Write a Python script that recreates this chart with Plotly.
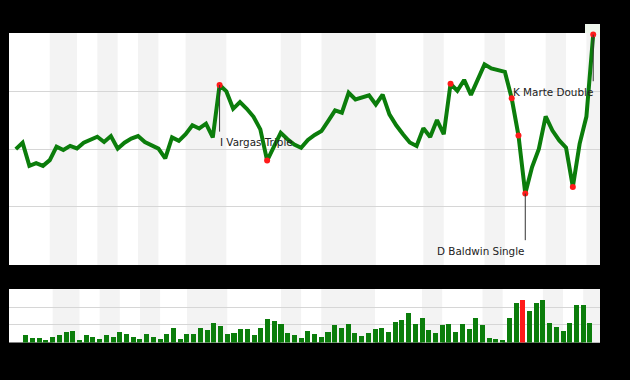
import plotly.graph_objects as go

# ---------------- data ----------------
win_prob = [
    0.500, 0.528, 0.427, 0.439, 0.427, 0.452, 0.511, 0.496, 0.514, 0.503,
    0.528, 0.543, 0.554, 0.531, 0.557, 0.502, 0.528, 0.546, 0.557, 0.531,
    0.514, 0.502, 0.460, 0.551, 0.536, 0.565, 0.604, 0.590, 0.611, 0.551,
    0.780, 0.752, 0.676, 0.705, 0.676, 0.641, 0.586, 0.450, 0.511, 0.571,
    0.543, 0.520, 0.506, 0.540, 0.562, 0.579, 0.623, 0.669, 0.659, 0.746,
    0.717, 0.727, 0.735, 0.695, 0.738, 0.652, 0.604, 0.565, 0.529, 0.514,
    0.591, 0.553, 0.627, 0.565, 0.785, 0.755, 0.802, 0.737, 0.800, 0.870,
    0.852, 0.844, 0.837, 0.722, 0.559, 0.306, 0.422, 0.501, 0.643, 0.581,
    0.538, 0.506, 0.335, 0.523, 0.642, 1.000,
]
plays = list(range(len(win_prob)))

leverage = [
    0.041, 0.024, 0.024, 0.013, 0.030, 0.041, 0.058, 0.064, 0.013, 0.041,
    0.030, 0.019, 0.041, 0.030, 0.058, 0.047, 0.030, 0.019, 0.047, 0.030,
    0.019, 0.047, 0.081, 0.019, 0.047, 0.047, 0.081, 0.070, 0.109, 0.092,
    0.047, 0.053, 0.075, 0.075, 0.041, 0.081, 0.132, 0.120, 0.103, 0.053,
    0.041, 0.024, 0.064, 0.047, 0.030, 0.058, 0.098, 0.081, 0.103, 0.053,
    0.036, 0.053, 0.075, 0.081, 0.058, 0.115, 0.126, 0.166, 0.103, 0.137,
    0.070, 0.053, 0.098, 0.103, 0.058, 0.103, 0.075, 0.137, 0.098, 0.024,
    0.019, 0.013, 0.137, 0.222, 0.239, 0.177, 0.222, 0.239, 0.109, 0.087,
    0.064, 0.109, 0.211, 0.211, 0.109,
]
bar_plays = list(range(1, len(leverage) + 1))

highlight_plays = [30, 37, 64, 73, 74, 75, 82, 85]
label_plays = [30, 75, 85]
label_texts = ["I Vargas Triple", "D Baldwin Single", "K Marte Double"]
label_sides = ["left", "right", "right"]
red_bar_play = 75

half_inning_breaks = [5, 9, 12, 15, 18, 21, 25, 31, 39, 42, 45, 53, 60, 63, 69, 72, 78, 81, 84, 86.5]
inning_centers = [2.5, 10.5, 16.5, 23, 35, 43.5, 56.5, 66, 75, 82.5]
inning_labels = ["1", "2", "3", "4", "5", "6", "7", "8", "9", "10"]

title_text = "8/23/2020 - Diamondbacks @ Padres (Win Probability)"
top_team = "Diamondbacks"
bottom_team = "Padres"
bar_title = "Leverage Index"

# ---------------- styles ----------------
W, H = 630, 380
GREEN = "#0b7d0b"
RED = "#ff1a1a"
BAND = "#f3f3f3"
GRID = "#d6d6d6"
FONT = "DejaVu Sans"


def px_x(p):
    return p / W


def px_y(p):
    return (H - p) / H


fig = go.Figure()

fig.add_trace(go.Scatter(
    x=plays, y=win_prob, mode="lines",
    line=dict(color=GREEN, width=4),
    xaxis="x", yaxis="y", hoverinfo="skip", showlegend=False,
))
fig.add_trace(go.Scatter(
    x=highlight_plays, y=[win_prob[i] for i in highlight_plays], mode="markers",
    marker=dict(color=RED, size=6),
    cliponaxis=False, xaxis="x", yaxis="y", showlegend=False,
))
fig.add_trace(go.Bar(
    x=bar_plays, y=leverage, width=0.75,
    marker=dict(color=[RED if p == red_bar_play else GREEN for p in bar_plays], line=dict(width=0)),
    xaxis="x2", yaxis="y2", showlegend=False,
))

shapes = []
# half-inning bands
for k in range(0, len(half_inning_breaks) - 1, 2):
    for xr, yr in (("x", "y domain"), ("x2", "y2 domain")):
        shapes.append(dict(
            type="rect", xref=xr, yref=yr,
            x0=half_inning_breaks[k], x1=half_inning_breaks[k + 1], y0=0, y1=1,
            fillcolor=BAND, line=dict(width=0), layer="below",
        ))

# light box behind the final marker that pokes above the plot
shapes.append(dict(
    type="rect", xref="paper", yref="paper",
    x0=px_x(585), x1=px_x(600), y0=px_y(33), y1=px_y(24),
    fillcolor="#eef6ec", line=dict(width=0), layer="below",
))

annotations = []
drop = 47 / 230.8
for p, txt, side in zip(label_plays, label_texts, label_sides):
    shapes.append(dict(
        type="line", xref="x", yref="y",
        x0=p, x1=p, y0=win_prob[p], y1=win_prob[p] - drop,
        line=dict(color="#333333", width=1),
    ))
    annotations.append(dict(
        x=p, y=win_prob[p], xref="x", yref="y",
        text=txt, showarrow=False, xanchor=side, yanchor="middle",
        yshift=-57, xshift=(-2 if side == "left" else 2),
        font=dict(family=FONT, size=10.4, color="#222222"),
    ))

annotations.append(dict(
    x=px_x(316), y=px_y(15.5), xref="paper", yref="paper",
    text="<b>" + title_text + "</b>", showarrow=False,
    xanchor="center", yanchor="middle",
    font=dict(family=FONT, size=12, color="black"),
))
annotations.append(dict(
    x=px_x(619), y=px_y(91), xref="paper", yref="paper",
    text=top_team, showarrow=False, textangle=-90,
    xanchor="center", yanchor="middle",
    font=dict(family=FONT, size=11, color="black"),
))
annotations.append(dict(
    x=px_x(619), y=px_y(203), xref="paper", yref="paper",
    text=bottom_team, showarrow=False, textangle=-90,
    xanchor="center", yanchor="middle",
    font=dict(family=FONT, size=11, color="black"),
))
annotations.append(dict(
    x=px_x(303), y=px_y(354), xref="paper", yref="paper",
    text=bar_title, showarrow=False,
    xanchor="center", yanchor="middle",
    font=dict(family=FONT, size=11, color="black"),
))

fig.update_layout(
    width=W, height=H,
    margin=dict(l=0, r=0, t=0, b=0),
    paper_bgcolor="black", plot_bgcolor="white",
    showlegend=False, bargap=0,
    shapes=shapes, annotations=annotations,
    font=dict(family=FONT, size=11, color="black"),
    xaxis=dict(
        domain=[px_x(9), px_x(600)], range=[-1, 86], anchor="y",
        showgrid=False, zeroline=False,
        showline=True, linecolor="black", linewidth=2, mirror=False,
        tickvals=inning_centers, ticktext=inning_labels, ticks="",
        tickfont=dict(family=FONT, size=11, color="black"),
    ),
    yaxis=dict(
        domain=[px_y(265), px_y(33)], range=[-0.006, 1.007], anchor="x",
        showgrid=True, gridcolor=GRID, gridwidth=1,
        tickvals=[0.25, 0.5, 0.75], showticklabels=False, ticks="",
        zeroline=False, showline=True, linecolor="black", linewidth=1,
    ),
    xaxis2=dict(
        domain=[px_x(9), px_x(600)], range=[-1.5, 86.5], anchor="y2",
        showgrid=False, zeroline=False, showticklabels=False, ticks="",
        showline=True, linecolor="black", linewidth=1,
    ),
    yaxis2=dict(
        domain=[px_y(342.5), px_y(289)], range=[0, 0.302], anchor="x2",
        showgrid=True, gridcolor=GRID, gridwidth=1,
        tickvals=[0.1, 0.2], showticklabels=False, ticks="",
        zeroline=False, showline=True, linecolor="black", linewidth=1,
    ),
)

fig.write_html("out.html")
